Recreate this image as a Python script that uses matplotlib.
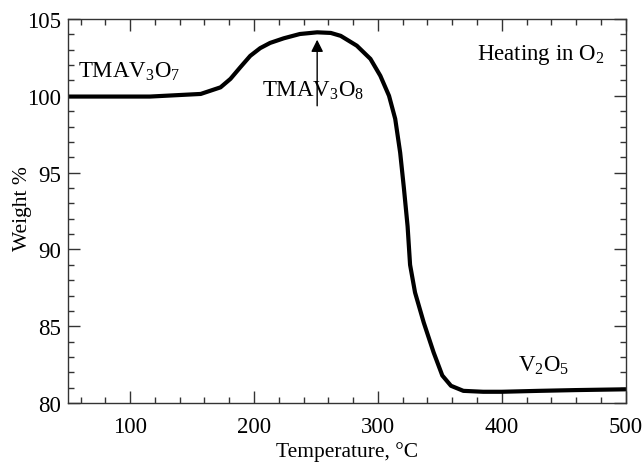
import numpy as np
import matplotlib
matplotlib.use("Agg")
import matplotlib.pyplot as plt
from matplotlib.ticker import MultipleLocator

plt.rcParams['font.family'] = 'Liberation Serif'
plt.rcParams['mathtext.fontset'] = 'custom'
plt.rcParams['mathtext.rm'] = 'Liberation Serif'
plt.rcParams['mathtext.it'] = 'Liberation Serif:italic'

# TGA curve
temperature = [50, 116, 157, 173, 181, 189, 197, 205, 213, 224, 237, 251, 262,
               270, 283, 294, 302, 309, 314, 318, 321, 324, 326, 330, 337, 345,
               352, 359, 369, 385, 400, 430, 460, 500]
weight = [99.95, 99.95, 100.12, 100.55, 101.1, 101.86, 102.6, 103.1, 103.44,
          103.74, 104.02, 104.13, 104.09, 103.9, 103.26, 102.4, 101.3, 100.0,
          98.5, 96.3, 94.0, 91.5, 89.0, 87.2, 85.25, 83.3, 81.8, 81.13, 80.8,
          80.74, 80.74, 80.8, 80.85, 80.9]

fig, ax = plt.subplots(figsize=(6.43, 4.64), dpi=100)
fig.subplots_adjust(left=0.106, right=0.973, top=0.957, bottom=0.129)

ax.plot(temperature, weight, color='black', linewidth=3.0,
        solid_capstyle='round', solid_joinstyle='round')

ax.set_xlim(50, 500)
ax.set_ylim(80, 105)
ax.xaxis.set_major_locator(MultipleLocator(100))
ax.xaxis.set_minor_locator(MultipleLocator(20))
ax.yaxis.set_major_locator(MultipleLocator(5))
ax.yaxis.set_minor_locator(MultipleLocator(1))
ax.tick_params(which='both', direction='in', top=True, right=True, labelsize=16.5,
               width=1.0, color='#333333')
ax.tick_params(which='major', length=8.5)
ax.tick_params(which='minor', length=4)
ax.tick_params(axis='x', which='major', pad=9)
ax.tick_params(axis='y', which='major', pad=5)
for s in ax.spines.values():
    s.set_linewidth(1.0)
    s.set_color('#333333')

ax.set_xlabel('Temperature, °C', fontsize=15.5, labelpad=3)
ax.set_ylabel('Weight %', fontsize=15.5)
ax.yaxis.set_label_coords(-0.064, 0.51)

ax.text(58, 101.6, 'TMAV$_3$O$_7$', fontsize=16.5, va='center', ha='left')
ax.text(206.5, 100.4, 'TMAV$_3$O$_8$', fontsize=16.5, va='center', ha='left')
ax.text(380, 102.7, 'Heating in O$_2$', fontsize=16.5, va='center', ha='left')
ax.text(413, 82.5, 'V$_2$O$_5$', fontsize=16.5, va='center', ha='left')

ax.annotate('', xy=(251, 103.65), xytext=(251, 99.35),
            arrowprops=dict(arrowstyle='-|>', color='black', lw=1.0,
                            mutation_scale=18, shrinkA=0, shrinkB=0))

fig.savefig('out.png', dpi=100)
